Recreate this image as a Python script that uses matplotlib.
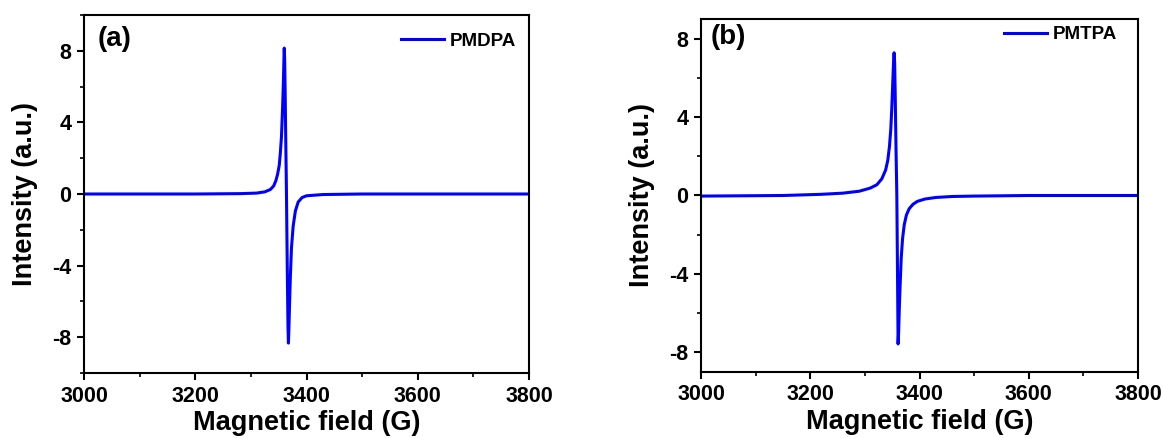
import numpy as np
import matplotlib
matplotlib.use("Agg")
import matplotlib.pyplot as plt
from matplotlib.ticker import MultipleLocator

plt.rcParams['font.family'] = ['Liberation Sans', 'DejaVu Sans']
plt.rcParams['font.weight'] = 'bold'
plt.rcParams['axes.unicode_minus'] = False

# ---- data ----
# (a) PMDPA
field_a = [3000, 3200, 3280, 3310, 3325, 3335, 3341, 3345, 3348, 3351, 3353,
           3355, 3357, 3358.5, 3359.5, 3360, 3360.7, 3361.5, 3362.5, 3364,
           3365.5, 3366.7, 3367.5, 3368.3, 3369.5, 3371, 3373, 3376, 3380,
           3385, 3392, 3400, 3430, 3500, 3800]
int_a = [0, 0, 0.02, 0.05, 0.12, 0.25, 0.45, 0.75, 1.1, 1.6, 2.3,
         3.2, 4.8, 6.3, 7.6, 8.15, 7.6, 6.0, 3.5, 0,
         -4.3, -7.4, -8.33, -7.6, -6.2, -4.6, -3.0, -1.8, -0.95,
         -0.45, -0.2, -0.1, -0.03, 0, 0]

# (b) PMTPA
field_b = [3000, 3150, 3220, 3260, 3290, 3310, 3322, 3331, 3338, 3342, 3345,
           3347.5, 3349.5, 3351, 3352.5, 3353.5, 3354.5, 3355.5, 3357, 3358.5,
           3359.7, 3360.8, 3361.8, 3363, 3364.5, 3366.5, 3369, 3372, 3376,
           3381, 3388, 3396, 3410, 3430, 3460, 3500, 3600, 3800]
int_b = [-0.03, 0, 0.06, 0.12, 0.22, 0.38, 0.55, 0.85, 1.3, 1.8, 2.5,
         3.4, 4.6, 5.7, 6.8, 7.28, 6.8, 5.2, 2.4, 0,
         -3.8, -7.57, -7.0, -5.8, -4.6, -3.2, -2.2, -1.5, -1.0,
         -0.68, -0.45, -0.3, -0.18, -0.1, -0.05, -0.03, 0, 0]

panels = [
    dict(x=field_a, y=int_a, name='PMDPA', tag='(a)', ylim=(-10, 10),
         rect=[84/1163, 1-373/438, 445/1163, 358/438],
         leg=(0.971, 0.927), tagpos=(0.031, 0.97)),
    dict(x=field_b, y=int_b, name='PMTPA', tag='(b)', ylim=(-9, 9),
         rect=[701/1163, 1-372/438, 437/1163, 353/438],
         leg=(0.952, 0.955), tagpos=(0.021, 0.985)),
]

fig = plt.figure(figsize=(11.63, 4.38), dpi=100)

for p in panels:
    ax = fig.add_axes(p['rect'])
    ax.plot(p['x'], p['y'], color='#0000FF', lw=2.2, label=p['name'])
    ax.set_xlim(3000, 3800)
    ax.set_ylim(*p['ylim'])
    ax.xaxis.set_major_locator(MultipleLocator(200))
    ax.xaxis.set_minor_locator(MultipleLocator(100))
    ax.yaxis.set_major_locator(MultipleLocator(4))
    ax.yaxis.set_minor_locator(MultipleLocator(2))
    ax.tick_params(which='major', length=5, width=1.5, labelsize=15.5, pad=4)
    ax.tick_params(which='minor', length=3, width=1.2)
    for s in ax.spines.values():
        s.set_linewidth(1.5)
    for lab in ax.get_xticklabels() + ax.get_yticklabels():
        lab.set_fontweight('bold')
    ax.set_xlabel('Magnetic field (G)', fontsize=19.5, fontweight='bold', labelpad=2.5)
    ax.set_ylabel('Intensity (a.u.)', fontsize=19.5, fontweight='bold', labelpad=10)
    ax.text(p['tagpos'][0], p['tagpos'][1], p['tag'], transform=ax.transAxes,
            fontsize=20, fontweight='bold', va='top', ha='left')
    ax.legend(loc='center right', bbox_to_anchor=p['leg'], frameon=False,
              borderaxespad=0, borderpad=0, handlelength=2.3,
              handletextpad=0.3, prop=dict(size=13.5, weight='bold'))

fig.savefig('out.png', dpi=100)
